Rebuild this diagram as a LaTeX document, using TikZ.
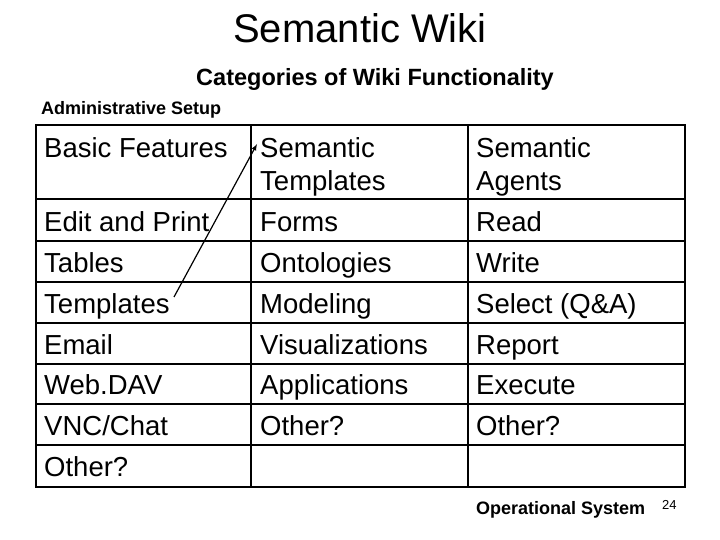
\documentclass[tikz,border=0pt]{standalone}
\usepackage{fontspec}
\setmainfont{Liberation Sans}
\begin{document}
\begin{tikzpicture}[x=1pt,y=-1pt,
  cell/.style={anchor=base west,inner sep=0pt,font=\fontsize{27.5}{33}\selectfont,align=left},
  grid/.style={line width=2pt}]
\useasboundingbox (0,0) rectangle (720,540);
\node (title) at (360,28) {\fontsize{40}{44}\selectfont Semantic Wiki};
\node[anchor=base] (sub) at (375,86) {\fontsize{23.5}{26}\selectfont\bfseries Categories of Wiki Functionality};
\node[anchor=base west,inner sep=0pt] (adm) at (41,115) {\fontsize{18}{20}\selectfont\bfseries Administrative Setup};
\draw[grid] (36,125) rectangle (685,487);
\foreach \y in {199,241,282,323,364,404,445} \draw[line width=1.4pt] (36,\y) -- (685,\y);
\draw[grid] (251,125) -- (251,487);
\draw[grid] (468,125) -- (468,487);
\node[cell] (bf) at (44,158) {Basic Features};
\node[cell] (c11) at (44,231) {Edit and Print};
\node[cell] (c12) at (44,272) {Tables};
\node[cell] (c13) at (44,313) {Templates};
\node[cell] (c14) at (44,354) {Email};
\node[cell] (c15) at (44,394) {Web.DAV};
\node[cell] (c16) at (44,435) {VNC/Chat};
\node[cell] (c17) at (44,476) {Other?};
\node[cell] (st) at (260,158) {Semantic};
\node[cell] (st2) at (260,191) {Templates};
\node[cell] (c21) at (260,231) {Forms};
\node[cell] (c22) at (260,272) {Ontologies};
\node[cell] (c23) at (260,313) {Modeling};
\node[cell] (c24) at (260,354) {Visualizations};
\node[cell] (c25) at (260,394) {Applications};
\node[cell] (c26) at (260,435) {Other?};
\node[cell] (sa) at (476,158) {Semantic};
\node[cell] (sa2) at (476,191) {Agents};
\node[cell] (c31) at (476,231) {Read};
\node[cell] (c32) at (476,272) {Write};
\node[cell] (c33) at (476,313) {Select (Q\&A)};
\node[cell] (c34) at (476,354) {Report};
\node[cell] (c35) at (476,394) {Execute};
\node[cell] (c36) at (476,435) {Other?};
\coordinate (a) at (174,297);
\coordinate (b) at (257,144);
\draw[line width=1.2pt,-latex] (a) -- (b);
\node[anchor=base west,inner sep=0pt] (op) at (476,514) {\fontsize{18}{20}\selectfont\bfseries Operational System};
\node[anchor=base west,inner sep=0pt] (pg) at (662,509) {\fontsize{13}{15}\selectfont 24};
\end{tikzpicture}
\end{document}
